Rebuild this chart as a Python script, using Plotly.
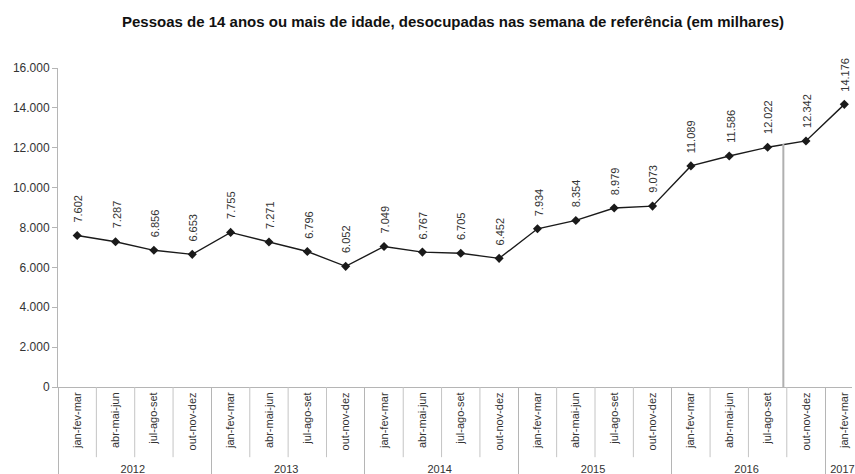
import plotly.graph_objects as go

years = ["2012"] * 4 + ["2013"] * 4 + ["2014"] * 4 + ["2015"] * 4 + ["2016"] * 4 + ["2017"]
quarters = ["jan-fev-mar", "abr-mai-jun", "jul-ago-set", "out-nov-dez"] * 5 + ["jan-fev-mar"]
values = [7602, 7287, 6856, 6653, 7755, 7271, 6796, 6052, 7049, 6767, 6705, 6452,
          7934, 8354, 8979, 9073, 11089, 11586, 12022, 12342, 14176]
y_ticks = [0, 2000, 4000, 6000, 8000, 10000, 12000, 14000, 16000]
title = "Pessoas de 14 anos ou mais de idade, desocupadas nas semana de referência (em milhares)"

FONT = "Liberation Sans, Arial, sans-serif"
n = len(values)

fig = go.Figure()
fig.add_trace(go.Scatter(
    x=[years, quarters], y=values, mode="lines+markers",
    line=dict(color="#1a1a1a", width=1.4),
    marker=dict(symbol="diamond", size=7, color="#1a1a1a"),
    hoverinfo="y", showlegend=False,
))

annotations = []
for i, v in enumerate(values):
    annotations.append(dict(
        x=i, y=v, xref="x", yref="y",
        text=f"{v:,}".replace(",", "."),
        textangle=-90, showarrow=False,
        xanchor="center", yanchor="bottom", yshift=11, xshift=1,
        font=dict(family=FONT, size=11, color="#333333"),
    ))

shapes = []
# separators between quarter categories (below the axis)
for k in range(n - 1):
    if years[k] == years[k + 1]:
        shapes.append(dict(type="line", xref="x", yref="paper",
                           x0=k + 0.5, x1=k + 0.5, y0=0, y1=-0.22,
                           line=dict(color="#c4c4c4", width=1)))
# stray vertical line seen in the source image
shapes.append(dict(type="line", xref="x", yref="y",
                   x0=18.41, x1=18.41, y0=-500, y1=12200,
                   line=dict(color="#b0b0b0", width=2)))

fig.update_layout(
    width=855, height=474,
    margin=dict(l=58, r=0, t=68, b=87),
    paper_bgcolor="white", plot_bgcolor="white",
    separators=",.",
    title=dict(text="<b>" + title + "</b>", x=453 / 855, xanchor="center",
               y=1 - 22 / 474, yanchor="middle",
               font=dict(family=FONT, size=15, color="#111111")),
    xaxis=dict(
        type="multicategory",
        range=[-0.5, 20.2],
        showline=True, linecolor="#b5b5b5", linewidth=1,
        showgrid=False, zeroline=False,
        ticks="", tickangle=-90,
        tickfont=dict(family=FONT, size=11, color="#333333"),
        showdividers=True, dividercolor="#b5b5b5", dividerwidth=1,
    ),
    yaxis=dict(
        range=[0, 16000], tickvals=y_ticks, tickformat=",d",
        showline=True, linecolor="#b5b5b5", linewidth=1,
        showgrid=False, zeroline=False,
        ticks="outside", ticklen=5, tickcolor="#b5b5b5",
        tickfont=dict(family=FONT, size=12, color="#333333"),
    ),
    annotations=annotations,
    shapes=shapes,
)

fig.write_html("out.html")
